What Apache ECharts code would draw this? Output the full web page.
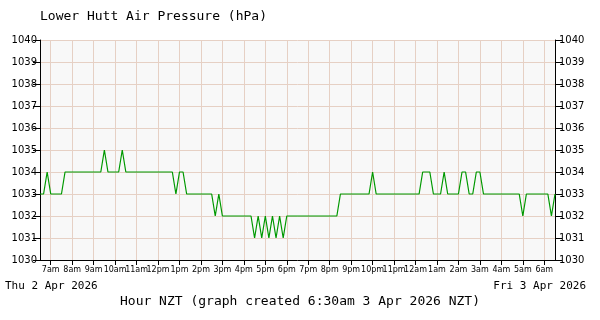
<!DOCTYPE html>
<html>
<head>
<meta charset="utf-8">
<script src="https://cdn.jsdelivr.net/npm/echarts@6/dist/echarts.min.js"></script>
<style>
  html, body { margin: 0; padding: 0; background: #fff; }
  #chart { width: 600px; height: 320px; }
</style>
</head>
<body>
<div id="chart"></div>
<script>
// 10 minute readings, 6:30am Thu 2 Apr -> 6:30am Fri 3 Apr (NZT)
const startMinute = 6 * 60 + 30
const stepMinutes = 10

// pressure, hPa, one row per hour
const pressure = [
  1033, 1033, 1034, 1033, 1033, 1033,
  1033, 1034, 1034, 1034, 1034, 1034,
  1034, 1034, 1034, 1034, 1034, 1034,
  1035, 1034, 1034, 1034, 1034, 1035,
  1034, 1034, 1034, 1034, 1034, 1034,
  1034, 1034, 1034, 1034, 1034, 1034,
  1034, 1034, 1033, 1034, 1034, 1033,
  1033, 1033, 1033, 1033, 1033, 1033,
  1033, 1032, 1033, 1032, 1032, 1032,
  1032, 1032, 1032, 1032, 1032, 1032,
  1031, 1032, 1031, 1032, 1031, 1032,
  1031, 1032, 1031, 1032, 1032, 1032,
  1032, 1032, 1032, 1032, 1032, 1032,
  1032, 1032, 1032, 1032, 1032, 1032,
  1033, 1033, 1033, 1033, 1033, 1033,
  1033, 1033, 1033, 1034, 1033, 1033,
  1033, 1033, 1033, 1033, 1033, 1033,
  1033, 1033, 1033, 1033, 1033, 1034,
  1034, 1034, 1033, 1033, 1033, 1034,
  1033, 1033, 1033, 1033, 1034, 1034,
  1033, 1033, 1034, 1034, 1033, 1033,
  1033, 1033, 1033, 1033, 1033, 1033,
  1033, 1033, 1033, 1032, 1033, 1033,
  1033, 1033, 1033, 1033, 1033, 1032,
  1033
]

const yMin = 1030
const yMax = 1040

// category labels: minutes since midnight Thu
const times = pressure.map((v, i) => startMinute + i * stepMinutes)

function hourLabel(minute) {
  const h = Math.floor(minute / 60) % 24
  const suffix = h < 12 ? 'am' : 'pm'
  const h12 = h % 12 === 0 ? 12 : h % 12
  return h12 + suffix
}

const onHour = (index, value) => Number(value) % 60 === 0

const gridColor = '#e6d0c4'
const mono = 'DejaVu Sans Mono'
const sans = 'DejaVu Sans'

const chart = echarts.init(document.getElementById('chart'), null, { renderer: 'canvas' })

const option = {
  animation: false,
  backgroundColor: '#ffffff',
  grid: {
    left: 40,
    right: 45,
    top: 40,
    bottom: 60,
    show: true,
    backgroundColor: '#f8f8f8',
    borderWidth: 0
  },
  graphic: [
    {
      type: 'text', left: 40, top: 10,
      style: { text: 'Lower Hutt Air Pressure (hPa)', font: '13px "' + mono + '"', fill: '#000' }
    },
    {
      type: 'text', left: 5, top: 281,
      style: { text: 'Thu 2 Apr 2026', font: '11px "' + mono + '"', fill: '#000' }
    },
    {
      type: 'text', right: 14, top: 281,
      style: { text: 'Fri 3 Apr 2026', font: '11px "' + mono + '"', fill: '#000' }
    },
    {
      type: 'text', left: 'center', top: 295,
      style: { text: 'Hour NZT (graph created 6:30am 3 Apr 2026 NZT)', font: '13px "' + mono + '"', fill: '#000' }
    }
  ],
  xAxis: {
    type: 'category',
    data: times,
    boundaryGap: false,
    axisLine: { show: true, onZero: false, lineStyle: { color: '#000', width: 1 } },
    axisTick: { show: true, interval: onHour, length: 5, lineStyle: { color: '#000' } },
    axisLabel: {
      interval: onHour,
      formatter: v => hourLabel(Number(v)),
      fontFamily: sans,
      fontSize: 8,
      color: '#000',
      margin: 6
    },
    splitLine: { show: true, interval: onHour, lineStyle: { color: gridColor, width: 1 } }
  },
  yAxis: [
    {
      type: 'value',
      min: yMin,
      max: yMax,
      interval: 1,
      position: 'left',
      axisLine: { show: true, lineStyle: { color: '#000' } },
      axisTick: { show: true, length: 7, lineStyle: { color: '#000' } },
      axisLabel: { formatter: v => String(v), fontFamily: sans, fontSize: 10, color: '#000', margin: 3 },
      splitLine: { show: true, lineStyle: { color: gridColor, width: 1 } }
    },
    {
      type: 'value',
      min: yMin,
      max: yMax,
      interval: 1,
      position: 'right',
      axisLine: { show: true, lineStyle: { color: '#000' } },
      axisTick: { show: true, length: 7, lineStyle: { color: '#000' } },
      axisLabel: { formatter: v => String(v), fontFamily: sans, fontSize: 10, color: '#000', margin: 4 },
      splitLine: { show: false }
    }
  ],
  series: [{
    type: 'line',
    yAxisIndex: 0,
    data: pressure,
    symbol: 'none',
    lineStyle: { color: '#009900', width: 1.2 }
  }]
}

chart.setOption(option)
</script>
</body>
</html>
